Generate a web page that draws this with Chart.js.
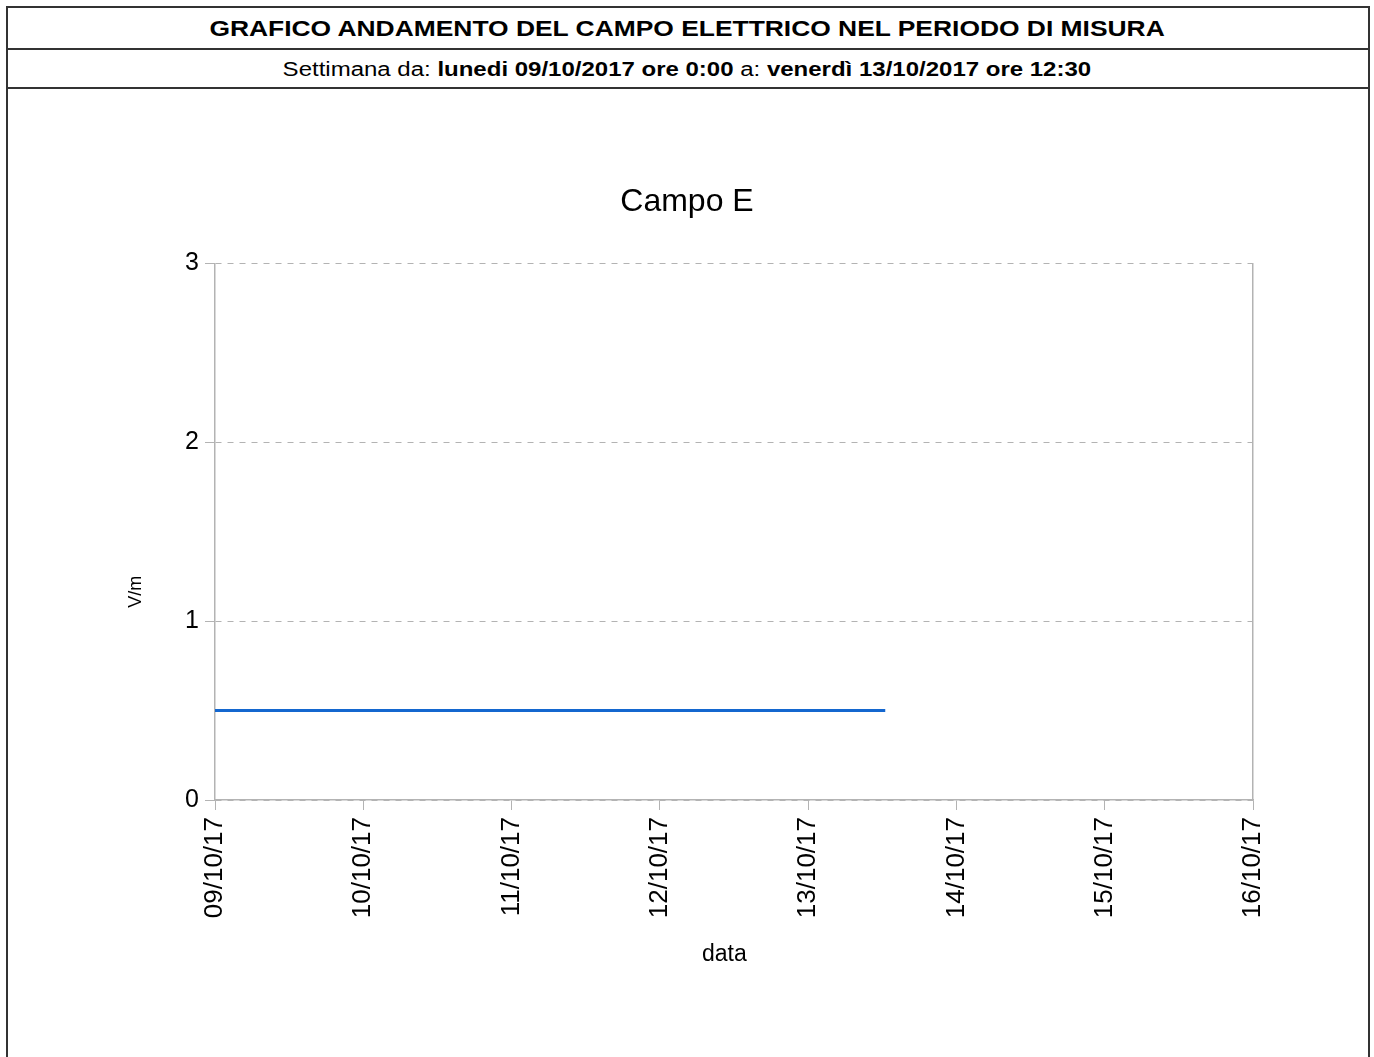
<!DOCTYPE html>
<html>
<head>
<meta charset="utf-8">
<script src="https://cdn.jsdelivr.net/npm/chart.js@4"></script>
<style>
  html, body { margin: 0; padding: 0; background: #fff; overflow: hidden; }
  body { width: 1374px; height: 1057px; position: relative; font-family: "Liberation Sans", Arial, sans-serif; color: #000; }
  .box { position: absolute; left: 6px; top: 6px; width: 1360px; height: 1100px; border: 2px solid #333; }
  .rule { position: absolute; left: 6px; width: 1362px; height: 2px; background: #333; }
  .row { position: absolute; left: 8px; width: 1358px; text-align: center; white-space: nowrap; }
  .row span.txt { display: inline-block; transform: scaleX(1.2); transform-origin: 50% 50%; }
  .r1 { top: 8px; height: 41px; line-height: 41px; font-size: 22px; font-weight: bold; }
  .r2 { top: 50px; height: 38px; line-height: 38px; font-size: 20px; }
  canvas { position: absolute; left: 0; top: 89px; }
</style>
</head>
<body>
<div class="box"></div>
<div class="rule" style="top:48px"></div>
<div class="rule" style="top:87px"></div>
<div class="row r1"><span class="txt">GRAFICO ANDAMENTO DEL CAMPO ELETTRICO NEL PERIODO DI MISURA</span></div>
<div class="row r2"><span class="txt">Settimana da: <b>lunedi 09/10/2017 ore 0:00</b> a: <b>venerdì 13/10/2017 ore 12:30</b></span></div>
<canvas id="chart" width="1374" height="968"></canvas>
<script>
// x axis: days from 09/10/17 00:00
const dayLabels = ['09/10/17', '10/10/17', '11/10/17', '12/10/17', '13/10/17', '14/10/17', '15/10/17', '16/10/17'];
const yTickValues = [0, 1, 2, 3];

// campo E: 09/10 0:00 -> 13/10 12:30, always 0.5 V/m
const sampleDays = [0, 4.52];
const campoE = [0.5, 0.5];

const gridGray = '#b3b3b3';
const points = sampleDays.map((d, i) => ({ x: d, y: campoE[i] }));

Chart.defaults.font.family = '"Liberation Sans", Arial, sans-serif';
Chart.defaults.color = '#000';

new Chart(document.getElementById('chart'), {
    type: 'line',
    data: {
        datasets: [{
            label: 'Campo E',
            data: points,
            borderColor: '#1467cf',
            borderWidth: 3,
            pointRadius: 0,
            tension: 0,
            fill: false
        }]
    },
    options: {
        responsive: false,
        animation: false,
        layout: { padding: { left: 121, right: 121, top: 0, bottom: 85 } },
        plugins: {
            legend: { display: false },
            tooltip: { enabled: false },
            title: {
                display: true,
                text: 'Campo E',
                font: { size: 32, weight: 'normal' },
                padding: { top: 94, bottom: 42 }
            }
        },
        scales: {
            x: {
                type: 'linear',
                min: 0,
                max: dayLabels.length - 1,
                ticks: {
                    stepSize: 1,
                    autoSkip: false,
                    minRotation: 90,
                    maxRotation: 90,
                    padding: 7,
                    font: { size: 26 },
                    callback: v => dayLabels[v]
                },
                grid: { drawOnChartArea: false, drawTicks: true, tickLength: 10, color: gridGray, tickColor: gridGray },
                border: { display: true, color: gridGray, width: 1.5 },
                // trailing spaces push the label a bit left of centre, as in the original
                title: { display: true, text: 'data   ', font: { size: 23 } },
                afterFit: s => { s.height = 172; }
            },
            y: {
                min: yTickValues[0],
                max: yTickValues[yTickValues.length - 1],
                ticks: { stepSize: 1, padding: 6, font: { size: 25 } },
                grid: { color: gridGray, lineWidth: 1, tickBorderDash: [], tickLength: 10, tickColor: gridGray },
                border: { display: true, color: gridGray, width: 1.5, dash: [6, 6] },
                // original puts V/m below the middle of the axis
                title: { display: true, text: 'V/m' + ' '.repeat(24), font: { size: 18 } },
                afterFit: s => { s.width = 94; }
            },
            y2: {
                position: 'right',
                min: 0,
                max: 3,
                ticks: { display: false },
                grid: { display: false },
                border: { display: true, color: gridGray, width: 1.5 },
                afterFit: s => { s.width = 0; }
            }
        }
    }
});
</script>
</body>
</html>
